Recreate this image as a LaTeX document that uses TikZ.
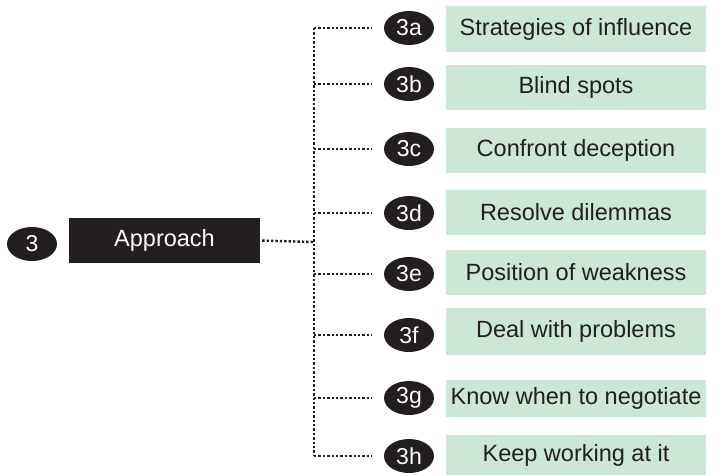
\documentclass[tikz,border=0pt]{standalone}
\usepackage{fontspec}
\setmainfont{Liberation Sans}
\usetikzlibrary{shapes.geometric}
\definecolor{ink}{HTML}{231F20}
\definecolor{leaf}{HTML}{CCE7D5}
\tikzset{
  badge/.style={ellipse, fill=ink, text=white, inner sep=0pt,
    minimum width=50pt, minimum height=34pt, font=\fontsize{23}{23}\selectfont},
  headbox/.style={rectangle, fill=ink, text=white, inner sep=0pt,
    minimum width=191pt, minimum height=45pt, font=\fontsize{23.5}{23.5}\selectfont},
  leafbox/.style={rectangle, fill=leaf, text=ink, inner sep=0pt,
    minimum width=260pt, font=\fontsize{23.5}{23.5}\selectfont},
  dotline/.style={draw=ink, line width=2.4pt, line cap=butt,
    dash pattern=on 2.4pt off 2pt},
}
\begin{document}
\begin{tikzpicture}[x=1pt, y=-1pt]
  \useasboundingbox (0,0) rectangle (719,475);

  % root
  \node[badge] (e3) at (32,244) {3};
  \node[headbox] (app) at (164.5,240.5) {Approach};

  % leaf boxes
  \node[leafbox, minimum height=46pt] (b3a) at (576,29)    {Strategies of influence};
  \node[leafbox, minimum height=45pt] (b3b) at (576,87.5)  {Blind spots};
  \node[leafbox, minimum height=45pt] (b3c) at (576,150.5) {Confront deception};
  \node[leafbox, minimum height=45pt] (b3d) at (576,212.5) {Resolve dilemmas};
  \node[leafbox, minimum height=45pt] (b3e) at (576,272.5) {Position of weakness};
  \node[leafbox, minimum height=47pt] (b3f) at (576,331.5) {Deal with problems};
  \node[leafbox, minimum height=37pt] (b3g) at (576,398.5) {Know when to negotiate};
  \node[leafbox, minimum height=40pt] (b3h) at (576,455)   {Keep working at it};

  % badges
  \node[badge] (e3a) at (409,28)  {3a};
  \node[badge] (e3b) at (409,84)  {3b};
  \node[badge] (e3c) at (409,149) {3c};
  \node[badge] (e3d) at (409,213) {3d};
  \node[badge] (e3e) at (409,274) {3e};
  \node[badge] (e3f) at (409,335) {3f};
  \node[badge] (e3g) at (409,398) {3g};
  \node[badge] (e3h) at (409,456) {3h};

  % trunk of the tree
  \coordinate (tr) at (314,242);
  \foreach \k/\y in {a/28,b/84,c/149,d/213,e/274,f/335,g/398,h/456}
    \coordinate (t3\k) at (314,\y);

  \draw[dotline, shorten <=2pt] (app.east) -- (tr);
  \draw[dotline] (t3a) -- (t3h);
  \foreach \k in {a,b,c,d,e,f,g,h}
    \draw[dotline, shorten >=12pt] (t3\k) -- (e3\k.west);
\end{tikzpicture}
\end{document}
